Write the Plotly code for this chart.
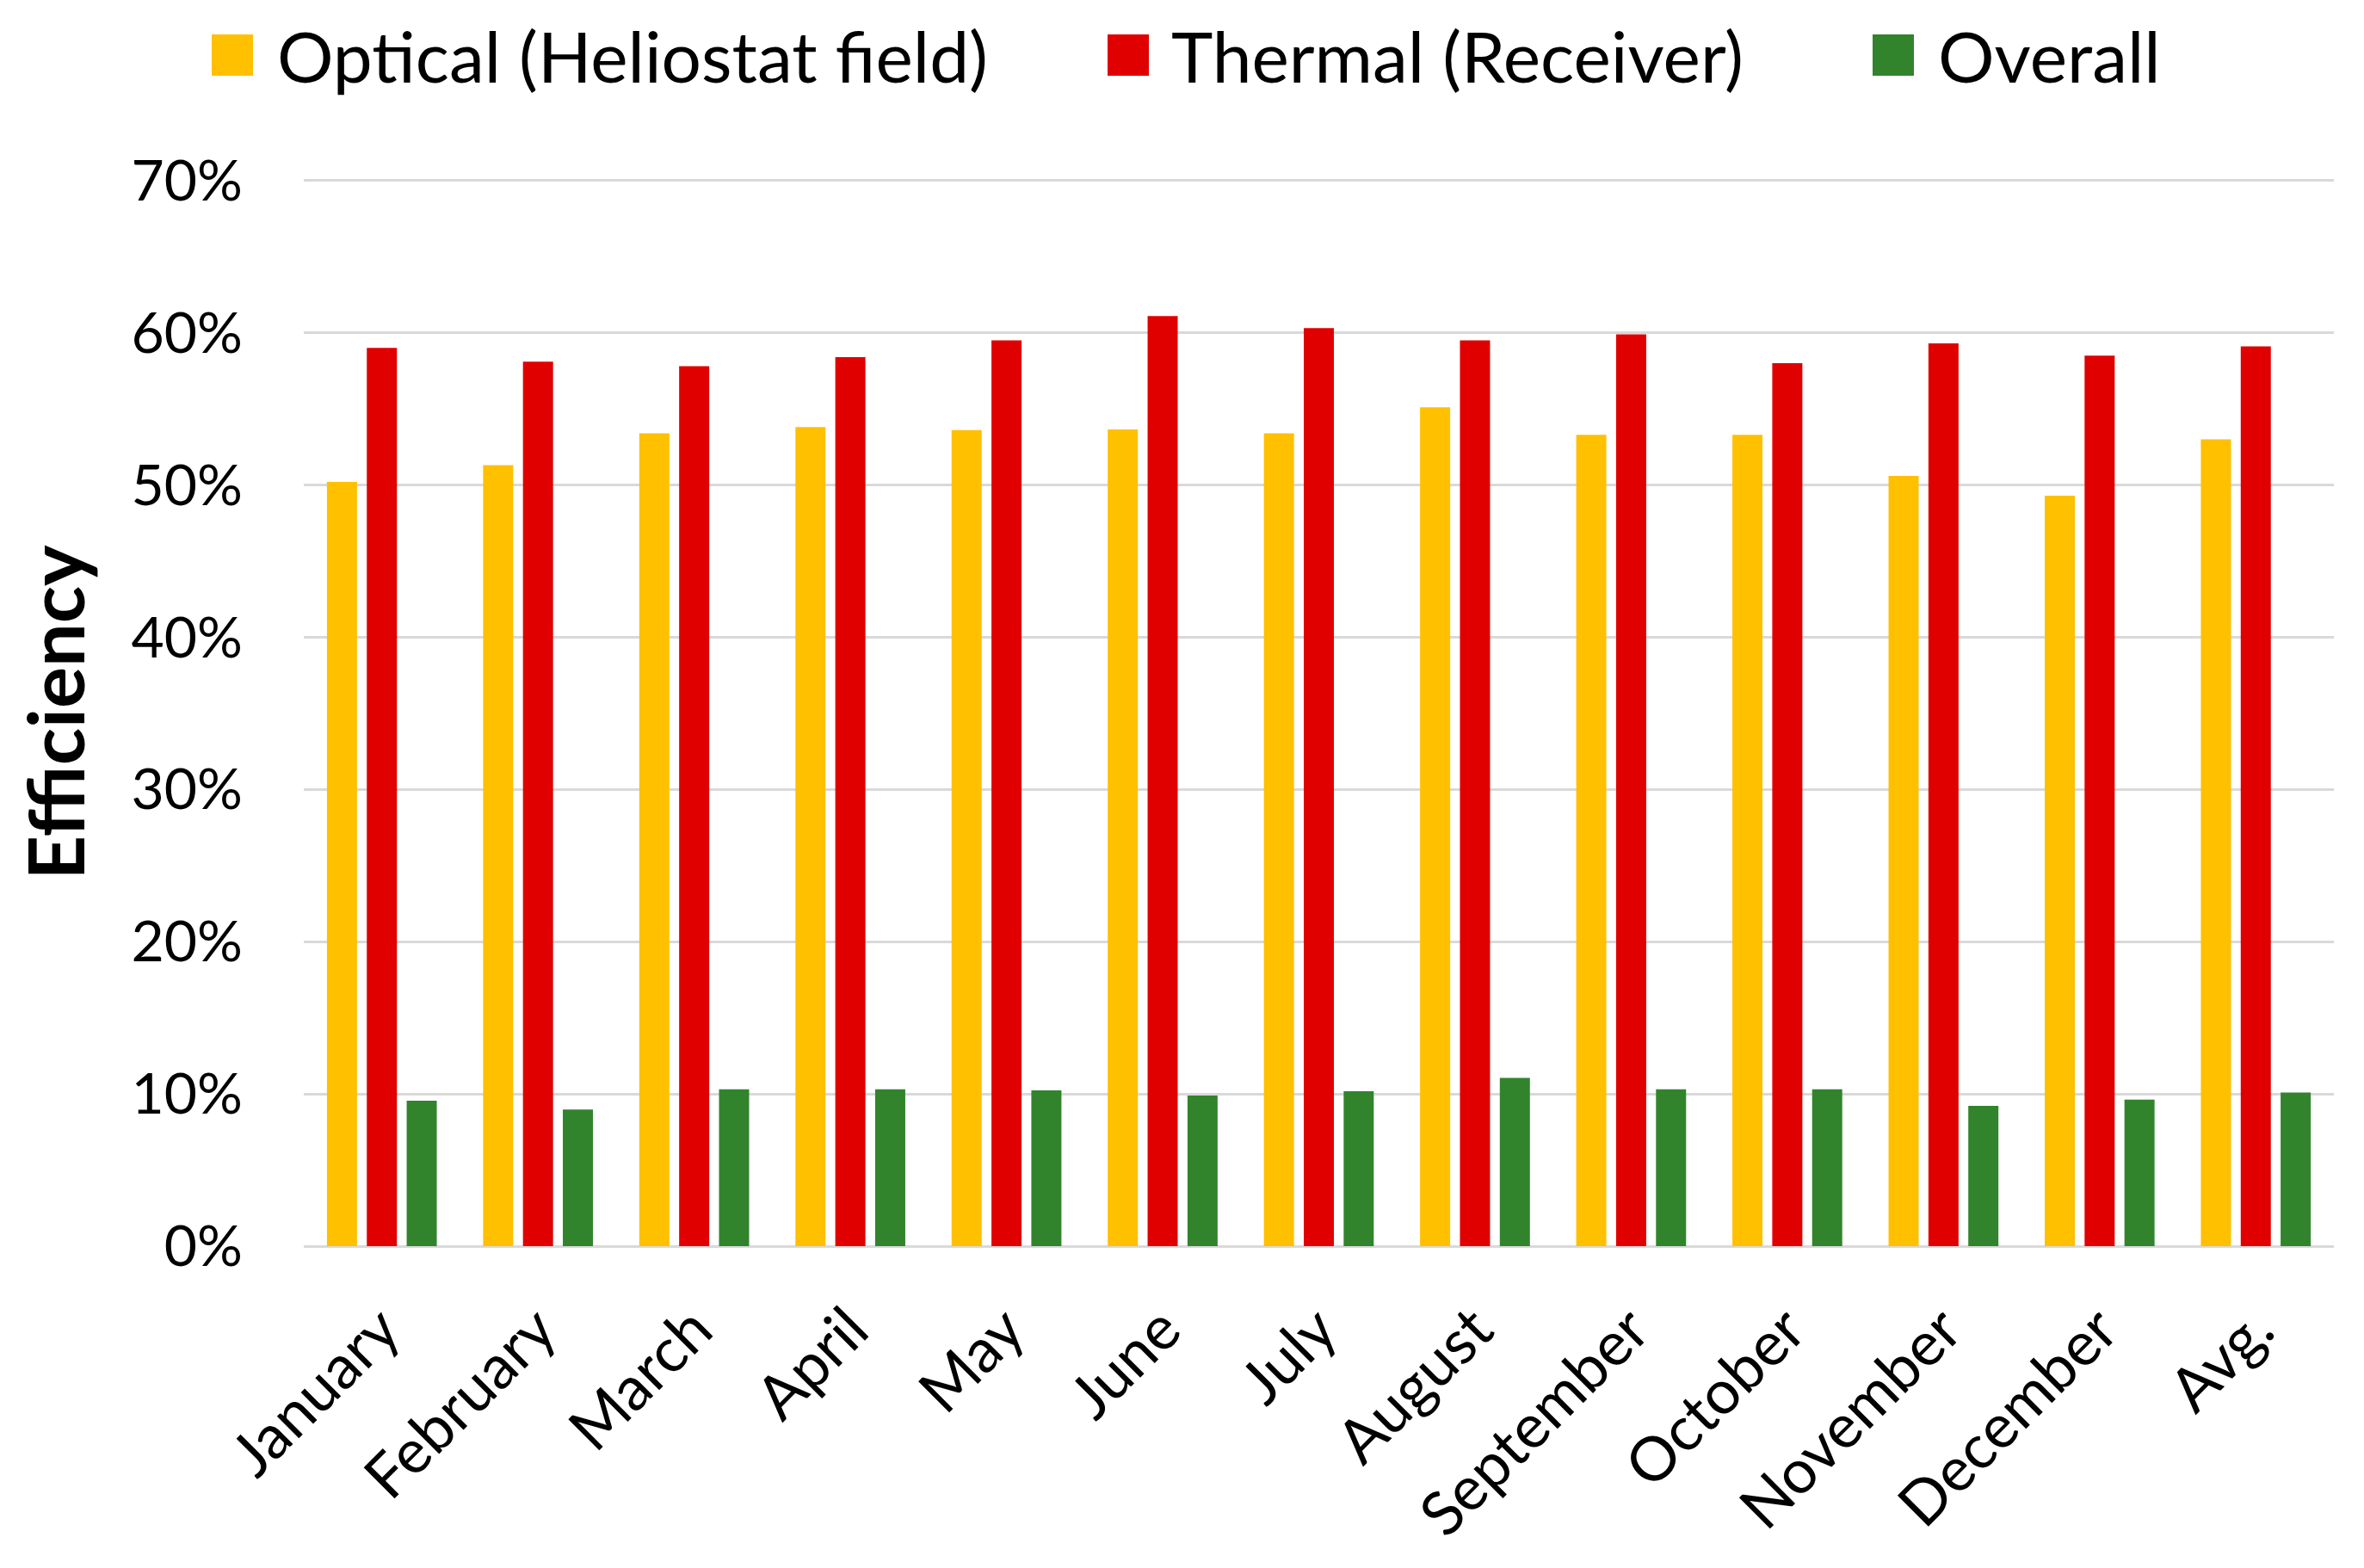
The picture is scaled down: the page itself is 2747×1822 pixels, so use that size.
import plotly.graph_objects as go

# ---------------- data ----------------
categories = ["January", "February", "March", "April", "May", "June", "July",
              "August", "September", "October", "November", "December", "Avg."]
optical = [50.2, 51.3, 53.4, 53.8, 53.6, 53.65, 53.4, 55.1, 53.3, 53.3, 50.6, 49.3, 53.0]
thermal = [59.0, 58.1, 57.8, 58.4, 59.5, 61.1, 60.3, 59.5, 59.9, 58.0, 59.3, 58.5, 59.1]
overall = [9.55, 8.98, 10.3, 10.3, 10.23, 9.9, 10.17, 11.05, 10.3, 10.3, 9.21, 9.62, 10.09]
series_names = ["Optical (Heliostat field)", "Thermal (Receiver)", "Overall"]
series_colors = ["#FFC000", "#E00000", "#31842C"]
y_tick_values = [0, 10, 20, 30, 40, 50, 60, 70]
y_tick_labels = ["0%", "10%", "20%", "30%", "40%", "50%", "60%", "70%"]

# ---------------- layout geometry (pixels) ----------------
W, H = 2747, 1822
ML, MR, MT, MB = 353, 35, 208, 374
PW, PH = W - ML - MR, H - MT - MB
FONT = "Lato"

def px_to_paper_x(px):
    return (px - ML) / PW

def px_to_paper_y(py):
    return (H - MB - py) / PH

fig = go.Figure()
for name, vals, col in zip(series_names, [optical, thermal, overall], series_colors):
    fig.add_trace(go.Bar(x=categories, y=vals, name=name, marker_color=col,
                         marker_line_width=0, showlegend=False))

# custom legend (large square swatches)
legend_items = [(246, 320), (1287, 1359), (2176, 2250)]
shapes = []
annotations = []
for (sq_x, tx_x), name, col in zip(legend_items, series_names, series_colors):
    shapes.append(dict(type="rect", xref="paper", yref="paper",
                       x0=px_to_paper_x(sq_x), x1=px_to_paper_x(sq_x + 48),
                       y0=px_to_paper_y(88), y1=px_to_paper_y(40),
                       fillcolor=col, line_width=0, layer="above"))
    annotations.append(dict(text=name, xref="paper", yref="paper",
                            x=px_to_paper_x(tx_x), y=px_to_paper_y(64),
                            xanchor="left", yanchor="middle", showarrow=False,
                            font=dict(family=FONT, size=82, color="#000000")))

fig.update_layout(
    width=W, height=H,
    margin=dict(l=ML, r=MR, t=MT, b=MB, autoexpand=False),
    paper_bgcolor="white", plot_bgcolor="white",
    barmode="group", bargap=0.234, bargroupgap=0.245,
    font=dict(family=FONT, color="#000000"),
    shapes=shapes, annotations=annotations,
    xaxis=dict(tickangle=-45, tickfont=dict(family=FONT, size=71, color="#000000"),
               showgrid=False, showline=False, ticks="", automargin=False,
               ticklabelstandoff=40),
    yaxis=dict(range=[0, 70.1], tickvals=y_tick_values, ticktext=y_tick_labels,
               tickfont=dict(family=FONT, size=66, color="#000000"),
               showgrid=True, gridcolor="#D9D9D9", gridwidth=3,
               zeroline=True, zerolinecolor="#D9D9D9", zerolinewidth=3,
               showline=False, ticks="", ticklabelstandoff=70, automargin=False,
               title=dict(text="<b>Efficiency</b>",
                          font=dict(family=FONT, size=90, color="#000000"),
                          standoff=24)),
)

fig.write_html("out.html", config={"displayModeBar": False},
               post_script="document.body.style.margin='0';document.body.style.overflow='hidden';")
